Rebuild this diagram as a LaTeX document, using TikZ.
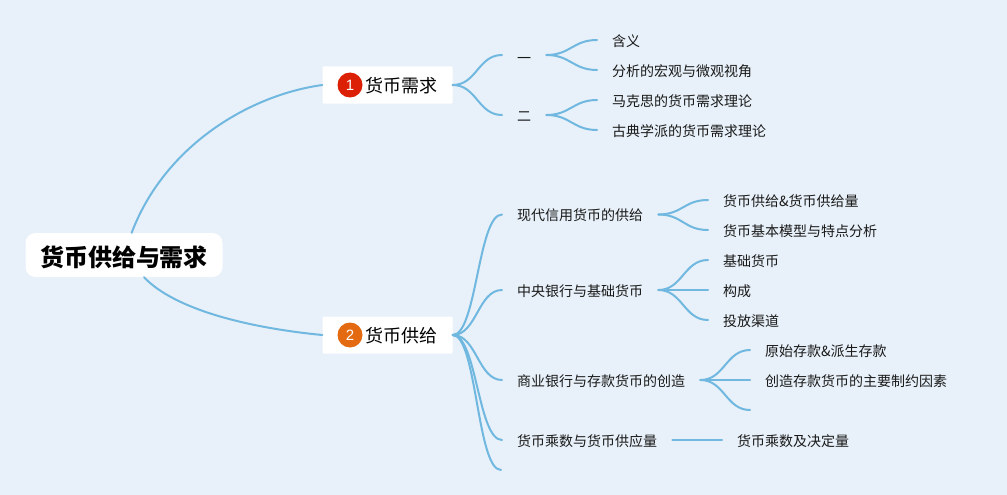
\documentclass[tikz,border=0pt]{standalone}
\usepackage{fontspec}
\setmainfont{Noto Sans CJK SC}
\newfontfamily\digitfont{Liberation Sans}
\usepackage{tikz}
\definecolor{bgBlue}{HTML}{E8F1F9}
\definecolor{lineBlue}{HTML}{70B8E0}
\definecolor{badgeRed}{HTML}{DB2005}
\definecolor{badgeOrange}{HTML}{E36A10}
\begin{document}
\begin{tikzpicture}[
    x=1pt, y=-1pt,
    rootBox/.style={fill=white, rounded corners=10pt, minimum width=197pt, minimum height=44pt, inner sep=0pt, text height=22.2pt, text depth=0pt, font=\fontsize{24}{24}\selectfont\bfseries},
    mainBox/.style={fill=white, rounded corners=1pt, minimum height=37pt, inner xsep=15pt, inner ysep=0pt, text width=100pt, align=right, text height=15.7pt, text depth=0pt, font=\fontsize{18}{18}\selectfont},
    badge/.style={circle, minimum size=25pt, inner sep=0pt, text=white, font=\fontsize{15}{15}\selectfont\digitfont},
    item/.style={anchor=west, inner xsep=15pt, inner ysep=2pt, text height=12.6pt, text depth=0pt, font=\fontsize{14}{14}\selectfont, text=black!90},
    link/.style={draw=lineBlue, line width=2pt, line cap=round},
]
\fill[bgBlue, use as bounding box] (0, 0) rectangle (1007, 495);

\node[rootBox] (root) at (124, 255) {货币供给与需求};
\node[mainBox] (demand) at (387.5, 85) {货币需求};
\node[mainBox] (supply) at (387.5, 335) {货币供给};
\node[badge, fill=badgeRed] (badgeA) at (350, 85) {1};
\node[badge, fill=badgeOrange] (badgeB) at (350, 335) {2};

\node[item, text height=16.6pt] (one) at (502, 55) {一};
\node[item] (two) at (502, 115) {二};
\node[item] (meaning) at (597, 40) {含义};
\node[item] (view) at (597, 70) {分析的宏观与微观视角};
\node[item] (marx) at (597, 100) {马克思的货币需求理论};
\node[item] (classic) at (597, 130) {古典学派的货币需求理论};

\node[item] (credit) at (502, 214.5) {现代信用货币的供给};
\node[item] (central) at (502, 290) {中央银行与基础货币};
\node[item] (bank) at (502, 380) {商业银行与存款货币的创造};
\node[item] (mult) at (502, 440) {货币乘数与货币供应量};
\coordinate (supplyEnd) at (501, 470);

\node[item] (amount) at (708, 200) {货币供给\&货币供给量};
\node[item] (model) at (708, 230) {货币基本模型与特点分析};
\node[item] (base) at (708, 260) {基础货币};
\node[item] (parts) at (708, 290) {构成};
\node[item] (channel) at (708, 320) {投放渠道};
\node[item] (deposit) at (750, 350) {原始存款\&派生存款};
\node[item] (limit) at (750, 380) {创造存款货币的主要制约因素};
\coordinate (bankEnd) at (750, 410);
\node[item] (factor) at (722, 440) {货币乘数及决定量};

\draw[link] (root.71) .. controls (165, 145) and (250, 95) .. (demand.west);
\draw[link] (root.-48) .. controls (175, 310) and (250, 328) .. (supply.west);

\foreach \a/\b in {demand/one, demand/two, one/meaning, one/view, two/marx, two/classic,
    credit/amount, credit/model, central/base, central/parts, central/channel,
    bank/deposit, bank/limit, mult/factor,
    supply/credit, supply/central, supply/bank, supply/mult} {
  \draw[link] (\a.east) .. controls +(24, 0) and +(-24, 0) .. (\b.west);
}
\draw[link] (supply.east) .. controls +(24, 0) and +(-24, 0) .. (supplyEnd);
\draw[link] (bank.east) .. controls +(24, 0) and +(-24, 0) .. (bankEnd);
\end{tikzpicture}
\end{document}
